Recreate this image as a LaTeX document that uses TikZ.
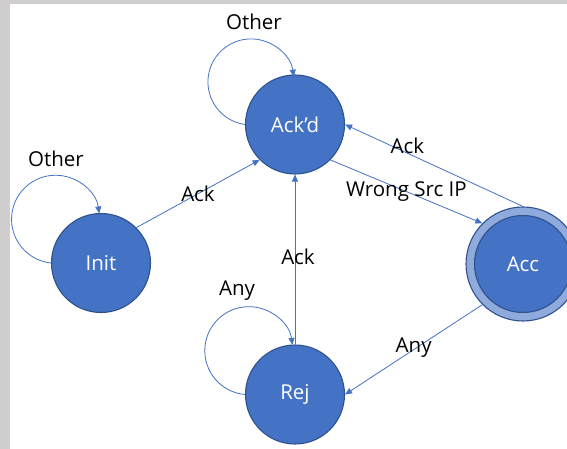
\documentclass[tikz,border=0pt]{standalone}
\usepackage{fontspec}
\setmainfont{Open Sans}
\usetikzlibrary{arrows.meta}
\definecolor{nodefill}{HTML}{4472C4}
\definecolor{nodeborder}{HTML}{2F528F}
\definecolor{ringfill}{HTML}{8FAADC}
\definecolor{linecol}{HTML}{4472C4}
\definecolor{framegray}{HTML}{D0CECE}
\newcommand{\dgfont}{\fontsize{20.5}{24}\selectfont}
\tikzset{
  state/.style={circle, draw=nodeborder, fill=nodefill, line width=1.1pt,
    minimum size=99pt, inner sep=0pt, text=white, font=\dgfont},
  ring/.style={circle, draw=nodeborder, fill=ringfill, line width=1.1pt,
    minimum size=114pt, inner sep=0pt},
  edge/.style={draw=linecol, line width=0.8pt, -{Triangle[length=7pt,width=6pt]}},
  lbl/.style={text=black, font=\dgfont, inner sep=0pt}
}
\begin{document}
\begin{tikzpicture}[x=1pt,y=1pt]
\useasboundingbox (0,-449) rectangle (567,0);
\clip (0,-449) rectangle (567,0);
\fill[framegray] (0,-449) rectangle (567,0);
\fill[white] (10,-449) rectangle (567,-4);

% states
\node[state] (Init) at (101,-263) {Init};
\node[state] (Ack) at (295,-124.5) {Ack’d};
\node[state] (Rej) at (295,-394.5) {Rej};
\node[ring] (Acc) at (523,-264) {};
\node[state, minimum size=97pt] (AccIn) at (523,-264) {Acc};

% self loops
\draw[edge] (Init.west) arc[start angle=264, end angle=7.5, radius=44];
\draw[edge] (Ack.west) arc[start angle=262, end angle=7, radius=43];
\draw[edge] (Rej.west) arc[start angle=265, end angle=7.5, radius=44];
\node[lbl] (lInit) at ([shift={(-45,104)}]Init.center) {Other};
\node[lbl] (lAck) at ([shift={(-41,102.5)}]Ack.center) {Other};
\node[lbl] (lRej) at ([shift={(-58,103.5)}]Rej.center) {Any};

% transitions
\draw[edge] (Init.45) -- node[lbl] {Ack} (Ack.225);
\draw[edge] (Rej.north) -- node[lbl, xshift=3pt, yshift=3pt] {Ack} (Ack.south);
\draw[edge] (Ack.-45) -- node[lbl] {Wrong Src IP} (Acc.135);
\draw[edge] (Acc.north) -- node[lbl, pos=0.65, yshift=7pt] {Ack} (Ack.east);
\draw[edge] (Acc.225) -- node[lbl, yshift=2pt] {Any} (Rej.east);
\end{tikzpicture}
\end{document}
